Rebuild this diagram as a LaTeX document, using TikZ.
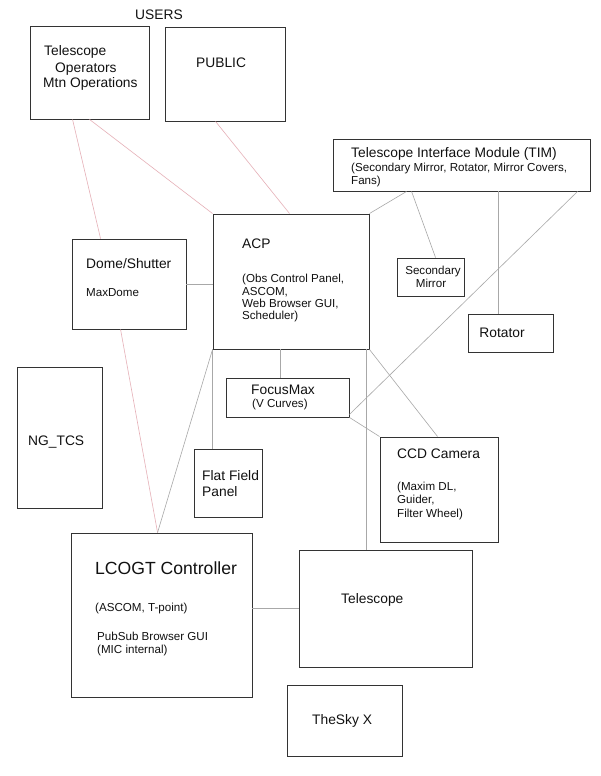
\documentclass[tikz,border=0pt]{standalone}
\usepackage{fontspec}
\setmainfont{Liberation Sans}
\begin{document}
\begin{tikzpicture}[x=1pt,y=-1pt,
  box/.style={draw=boxc,line width=0.9pt,rectangle,inner sep=0pt},
  gl/.style={draw=linec,line width=0.6pt},
  rl/.style={draw=redc,line width=0.6pt},
  mt/.style={inner sep=0pt,anchor=base west,font=\fontsize{13.8}{16}\selectfont,text=txtc},
  st/.style={inner sep=0pt,anchor=base west,font=\fontsize{11.6}{13}\selectfont,text=txtc},
]
\definecolor{boxc}{HTML}{333333}
\definecolor{linec}{HTML}{A8A8A8}
\definecolor{redc}{HTML}{E6B0B8}
\definecolor{txtc}{HTML}{111111}
\useasboundingbox[fill=white] (0,0) rectangle (600,776);

% boxes
\node[box,minimum width=119pt,minimum height=93pt] (telops) at (89.5,72.5) {};
\node[box,minimum width=120pt,minimum height=94pt] (public) at (225,74) {};
\node[box,minimum width=156pt,minimum height=135pt] (acp) at (291,281.5) {};
\node[box,minimum width=257pt,minimum height=52pt] (tim) at (461.5,165) {};
\node[box,minimum width=67pt,minimum height=38pt] (secm) at (430.5,277) {};
\node[box,minimum width=85pt,minimum height=38pt] (rot) at (510.5,333) {};
\node[box,minimum width=114pt,minimum height=90pt] (dome) at (129,284) {};
\node[box,minimum width=85pt,minimum height=141pt] (ngtcs) at (59.5,437.5) {};
\node[box,minimum width=123pt,minimum height=39pt] (focus) at (287.5,397.5) {};
\node[box,minimum width=68pt,minimum height=68pt] (flat) at (228,483) {};
\node[box,minimum width=118pt,minimum height=105pt] (ccd) at (439,489.5) {};
\node[box,minimum width=181pt,minimum height=164pt] (lcogt) at (161.5,615) {};
\node[box,minimum width=173pt,minimum height=117pt] (tel) at (385.5,608.5) {};
\node[box,minimum width=115pt,minimum height=71pt] (sky) at (344.5,720.5) {};

% red connectors
\draw[rl] ([xshift=43pt]telops.south west) -- ([xshift=29pt]dome.north west);
\draw[rl] ([xshift=60pt]telops.south west) -- (acp.north west);
\draw[rl] ([xshift=51pt]public.south west) -- ([xshift=77pt]acp.north west);
\draw[rl] ([xshift=49pt]dome.south west) -- ([xshift=87pt]lcogt.north west);

% gray connectors
\draw[gl] (dome.east) -- (dome.east -| acp.west);
\draw[gl] (acp.north east) -- ([xshift=74pt]tim.south west);
\draw[gl] ([xshift=79pt]tim.south west) -- ([xshift=39pt]secm.north west);
\draw[gl] ([xshift=166pt]tim.south west) -- ([xshift=31pt]rot.north west);
\draw[gl] ([xshift=245pt]tim.south west) -- ([yshift=3pt]focus.south east);
\draw[gl] ([xshift=68pt]acp.south west) -- ([xshift=55pt]focus.north west);
\draw[gl] (acp.south east) -- ([xshift=58pt]ccd.north west);
\draw[gl] (focus.south east) -- (ccd.north west);
\draw[gl] ([xshift=154pt]acp.south west) -- ([xshift=68pt]tel.north west);
\draw[gl] (acp.south west) -- (acp.south west |- flat.north);
\draw[gl] (acp.south west) -- ([xshift=87pt]lcogt.north west);
\draw[gl] ([yshift=7pt]lcogt.east) -- ([yshift=7pt]lcogt.east -| tel.west);

% texts
\node[mt,anchor=base] (users) at (159,19.8) {USERS};
\node[mt] (to1) at (44,56) {Telescope};
\node[mt] (to2) at (55,72.8) {Operators};
\node[mt] (to3) at (43,88) {Mtn Operations};
\node[mt] (pub) at (196,67) {PUBLIC};
\node[mt] (acpt) at (242,248) {ACP};
\node[st] (acp1) at (242,282) {(Obs Control Panel,};
\node[st] (acp2) at (242,295) {ASCOM,};
\node[st] (acp3) at (242,307) {Web Browser GUI,};
\node[st] (acp4) at (242,319) {Scheduler)};
\node[mt] (domet) at (86,268) {Dome/Shutter};
\node[st] (dome1) at (86,296) {MaxDome};
\node[mt] (ngt) at (28,445) {NG\_TCS};
\node[mt] (timt) at (351,157) {Telescope Interface Module (TIM)};
\node[st] (tim1) at (351,171) {(Secondary Mirror, Rotator, Mirror Covers,};
\node[st] (tim2) at (351,184) {Fans)};
\node[st,anchor=base] (sec1) at (433,274) {Secondary};
\node[st,anchor=base] (sec2) at (431,287) {Mirror};
\node[mt,anchor=base] (rott) at (502,337) {Rotator};
\node[mt] (foct) at (251,394) {FocusMax};
\node[st] (foc1) at (252,407) {(V Curves)};
\node[mt] (flat1) at (202,480) {Flat Field};
\node[mt] (flat2) at (202,496) {Panel};
\node[mt] (ccdt) at (397,458) {CCD Camera};
\node[st] (ccd1) at (397,490) {(Maxim DL,};
\node[st] (ccd2) at (397,503) {Guider,};
\node[st] (ccd3) at (397,517) {Filter Wheel)};
\node[mt,font=\fontsize{17.6}{20}\selectfont] (lct) at (95,574) {LCOGT Controller};
\node[st] (lc1) at (95,611) {(ASCOM, T-point)};
\node[st] (lc2) at (97,640) {PubSub Browser GUI};
\node[st] (lc3) at (97,653) {(MIC internal)};
\node[mt] (telt) at (341,603) {Telescope};
\node[mt] (skyt) at (312,724) {TheSky X};
\end{tikzpicture}
\end{document}
